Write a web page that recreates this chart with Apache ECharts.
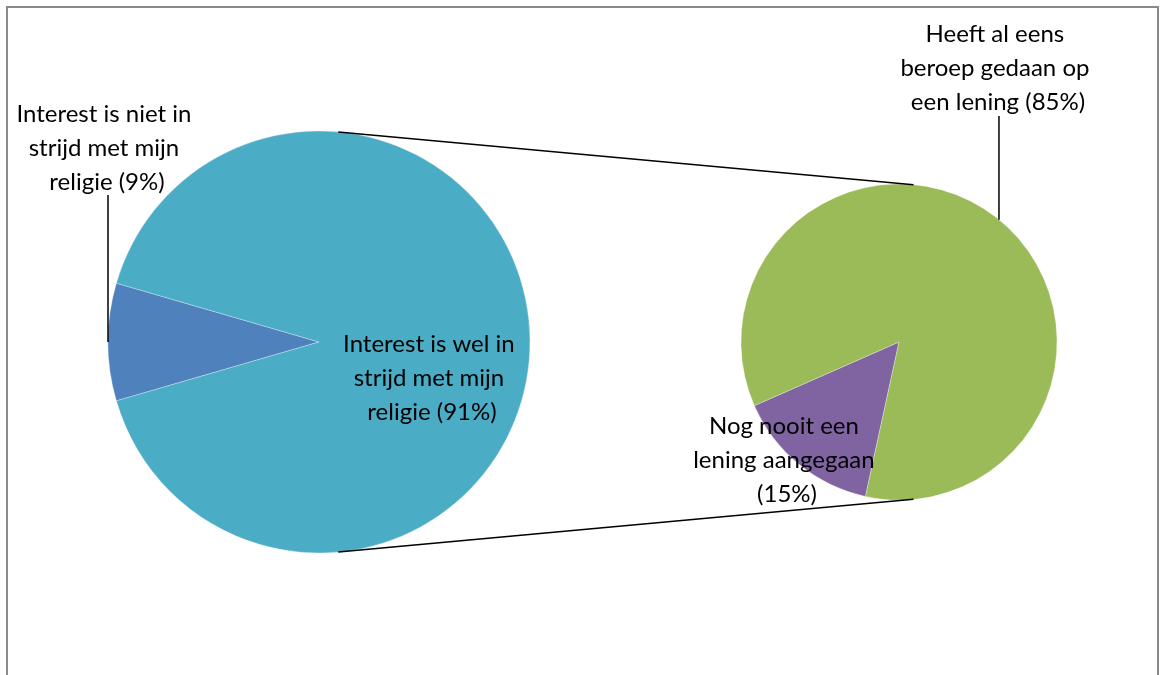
<!DOCTYPE html>
<html>
<head>
<meta charset="utf-8">
<script src="https://cdn.jsdelivr.net/npm/echarts@6/dist/echarts.min.js"></script>
<style>
  html, body { margin: 0; padding: 0; background: #fff; }
  #chart { width: 1160px; height: 675px; }
</style>
</head>
<body>
<div id="chart"></div>
<script>
// Primary pie: is interest in conflict with the respondent's religion?
const religionNames = ['Interest is niet in strijd met mijn religie', 'Interest is wel in strijd met mijn religie'];
const religionValues = [9, 91];

// Secondary pie: loan experience
const loanNames = ['Nog nooit een lening aangegaan', 'Heeft al eens beroep gedaan op een lening'];
const loanValues = [15, 85];

const religionColors = ['#4F81BD', '#4BACC6'];
const loanColors = ['#8064A2', '#9BBB59'];

// Layout of the two pies (pixels)
const MAIN = { cx: 319, cy: 342, r: 211 };
const SUB = { cx: 899, cy: 342, r: 158, focusMid: 50.75 };

// Label block centres and wrap widths, per series / data index
const LABEL_POS = [
  [[107, 148], [432, 378]],
  [[787, 460], [998, 68]]
];
const LABEL_WIDTH = [[190, 205], [205, 210]];
// Top end of the leader lines (y), per series
const LEADER_TOP = [195, 116];

const FONT = 'Lato, "Open Sans", sans-serif';

function total(arr) { return arr.reduce((a, b) => a + b, 0); }

// Primary pie: small slice centred on the left (180 deg)
const mainSmallSpan = religionValues[0] / total(religionValues) * 360;
const mainStart = 180 + mainSmallSpan / 2;

// Secondary pie: large slice centred on SUB.focusMid
const subSpans = loanValues.map(v => v / total(loanValues) * 360);
const subStart = SUB.focusMid + subSpans[0] + subSpans[1] / 2;

function buildData(names, values, colors, si) {
  return names.map((n, i) => ({
    name: n,
    value: values[i],
    itemStyle: { color: colors[i] },
    label: { width: LABEL_WIDTH[si][i] }
  }));
}

const labelStyle = {
  show: true,
  position: 'inside',
  formatter: '{b} ({d}%)',
  color: '#000',
  fontFamily: FONT,
  fontSize: 24,
  lineHeight: 34,
  overflow: 'break',
  align: 'center'
};

// Leader lines: from pie edge at the slice mid-angle straight up to the label
function edgePoint(p, angDeg) {
  const a = angDeg * Math.PI / 180;
  return [p.cx + p.r * Math.cos(a), p.cy - p.r * Math.sin(a)];
}
const leftLeaderBase = edgePoint(MAIN, 180);
const rightLeaderBase = edgePoint(SUB, SUB.focusMid);

// Connector lines: outer tangents joining the two pies
const dist = SUB.cx - MAIN.cx;
const tAng = 90 - Math.asin((MAIN.r - SUB.r) / dist) * 180 / Math.PI;
const topA = edgePoint(MAIN, tAng), topB = edgePoint(SUB, tAng);
const botA = edgePoint(MAIN, -tAng), botB = edgePoint(SUB, -tAng);

const lineStyle = { stroke: '#000', lineWidth: 1.5 };

const chart = echarts.init(document.getElementById('chart'));
chart.setOption({
  animation: false,
  backgroundColor: '#fff',
  graphic: [
    { type: 'rect', shape: { x: 7, y: 7, width: 1151, height: 700 },
      style: { fill: 'none', stroke: '#898989', lineWidth: 2 }, silent: true, z: 0 },
    { type: 'line', shape: { x1: topA[0], y1: topA[1], x2: topB[0], y2: topB[1] }, style: lineStyle, silent: true, z: 10 },
    { type: 'line', shape: { x1: botA[0], y1: botA[1], x2: botB[0], y2: botB[1] }, style: lineStyle, silent: true, z: 10 },
    { type: 'line', shape: { x1: leftLeaderBase[0], y1: leftLeaderBase[1], x2: leftLeaderBase[0], y2: LEADER_TOP[0] }, style: lineStyle, silent: true, z: 10 },
    { type: 'line', shape: { x1: rightLeaderBase[0], y1: rightLeaderBase[1], x2: rightLeaderBase[0], y2: LEADER_TOP[1] }, style: lineStyle, silent: true, z: 10 }
  ],
  series: [
    {
      type: 'pie',
      center: [MAIN.cx, MAIN.cy],
      radius: MAIN.r,
      startAngle: mainStart,
      clockwise: true,
      silent: true,
      itemStyle: { borderColor: 'rgba(255,255,255,0.6)', borderWidth: 0.5 },
      label: labelStyle,
      labelLine: { show: false },
      labelLayout: p => ({ x: LABEL_POS[0][p.dataIndex][0], y: LABEL_POS[0][p.dataIndex][1], align: 'center', verticalAlign: 'middle' }),
      data: buildData(religionNames, religionValues, religionColors, 0)
    },
    {
      type: 'pie',
      center: [SUB.cx, SUB.cy],
      radius: SUB.r,
      startAngle: subStart,
      clockwise: true,
      silent: true,
      itemStyle: { borderColor: 'rgba(255,255,255,0.6)', borderWidth: 0.5 },
      label: labelStyle,
      labelLine: { show: false },
      labelLayout: p => ({ x: LABEL_POS[1][p.dataIndex][0], y: LABEL_POS[1][p.dataIndex][1], align: 'center', verticalAlign: 'middle' }),
      data: buildData(loanNames, loanValues, loanColors, 1)
    }
  ]
});
</script>
</body>
</html>
